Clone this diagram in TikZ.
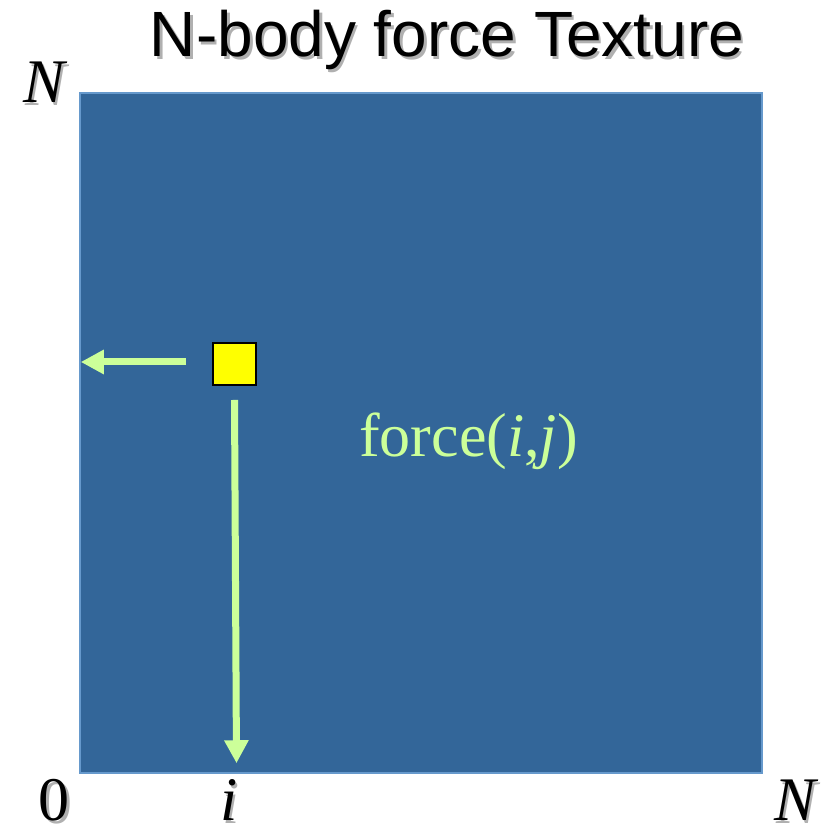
\documentclass[tikz,border=0pt]{standalone}
\usepackage{fontspec}
\setmainfont{Liberation Serif}
\newfontfamily\titlefont{Liberation Sans}
\usetikzlibrary{arrows.meta, positioning, calc}
\definecolor{texblue}{HTML}{336699}
\definecolor{texedge}{HTML}{6699CC}
\definecolor{forcegreen}{HTML}{CCFF99}
\definecolor{cellyellow}{HTML}{FFFF00}
\definecolor{shade}{HTML}{B0B0B0}
\tikzset{
  %
  texture/.style={draw=texedge, line width=2.5pt, fill=texblue, inner sep=0pt,
                  minimum width=682pt, minimum height=680pt},
  cellbox/.style={draw=black, line width=2pt, fill=cellyellow, inner sep=0pt,
                  minimum width=43pt, minimum height=42pt},
  %
  flow/.style={draw=forcegreen, line width=7pt, -{Triangle[length=23pt, width=23pt]}},
  %
  axislbl/.style={font=\fontsize{62}{62}\selectfont\itshape, inner sep=0pt, anchor=base},
  forcelbl/.style={font=\fontsize{62}{62}\selectfont, text=forcegreen, inner sep=0pt, anchor=base},
  titlelbl/.style={font=\titlefont\fontsize{64}{64}\selectfont, inner sep=0pt, anchor=base},
}
% text with a grey drop shadow: style, name, position, text
\newcommand\shadowlbl[4]{%
  \node[#1, text=shade] at ($(#3)+(2.5,-2.5)$) {#4};
  \node[#1] (#2) at (#3) {#4};
}

\begin{document}
\begin{tikzpicture}[x=1pt, y=1pt]
\useasboundingbox (0,0) rectangle (833,826);

% =========================================================================
\shadowlbl{titlelbl}{title}{447,769}{N-body force Texture}

\node[texture] (tex) at (421,393) {};
\node[cellbox] (cell) at (234.5,462) {};

\coordinate (hstart) at ($(cell.west)+(-26,2)$);
\coordinate (vstart) at ($(cell.south)+(0,-14)$);
\draw[flow] (hstart) -- ($(hstart -| tex.west)+(2,0)$);
\draw[flow] (vstart) -- ($(vstart |- tex.south)+(2,11)$);

\node[forcelbl] (force) at (468.5,369) {force(\textit{i},\textit{j})};

% =========================================================================
\shadowlbl{axislbl}{ntop}{44,723}{N}
\shadowlbl{axislbl}{zero}{54,5}{\upshape 0}
\shadowlbl{axislbl}{iaxis}{229,5}{i}
\shadowlbl{axislbl}{nright}{795,5}{N}

\end{tikzpicture}
\end{document}
